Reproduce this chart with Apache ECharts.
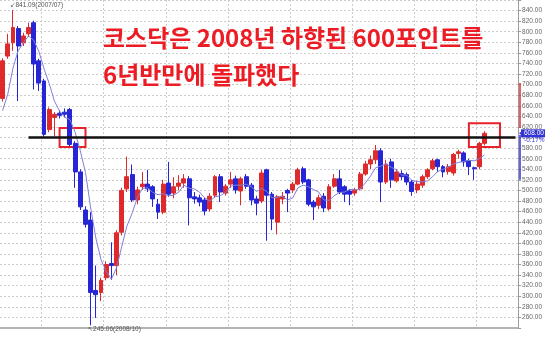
<!DOCTYPE html>
<html><head><meta charset="utf-8">
<script src="https://cdn.jsdelivr.net/npm/echarts@6/dist/echarts.min.js"></script>
<style>html,body{margin:0;padding:0;background:#fff}#c{width:545px;height:339px}</style>
</head><body><div id="c"></div>
<script>
// Monthly KOSDAQ categories (last slots are empty future months)
const months = [
 '2007/05','2007/06','2007/07','2007/08','2007/09','2007/10','2007/11','2007/12',
 '2008/01','2008/02','2008/03','2008/04','2008/05','2008/06','2008/07','2008/08','2008/09','2008/10','2008/11','2008/12',
 '2009/01','2009/02','2009/03','2009/04','2009/05','2009/06','2009/07','2009/08','2009/09','2009/10','2009/11','2009/12',
 '2010/01','2010/02','2010/03','2010/04','2010/05','2010/06','2010/07','2010/08','2010/09','2010/10','2010/11','2010/12',
 '2011/01','2011/02','2011/03','2011/04','2011/05','2011/06','2011/07','2011/08','2011/09','2011/10','2011/11','2011/12',
 '2012/01','2012/02','2012/03','2012/04','2012/05','2012/06','2012/07','2012/08','2012/09','2012/10','2012/11','2012/12',
 '2013/01','2013/02','2013/03','2013/04','2013/05','2013/06','2013/07','2013/08','2013/09','2013/10','2013/11','2013/12',
 '2014/01','2014/02','2014/03','2014/04','2014/05','2014/06','2014/07','2014/08','2014/09','2014/10','2014/11','2014/12',
 '2015/01','2015/02','2015/03','2015/04','2015/05','2015/06','2015/07','2015/08'
];
const opens = [
 674,754,779,806,779,796,817,745,
 707,615,638,646,648,653,589,535,463,444,311,307,
 335,362,358,421,503,530,482,507,512,507,474,459,
 514,495,508,514,522,488,486,482,465,491,526,495,
 512,522,499,526,510,484,480,539,493,440,484,500,
 501,512,541,520,478,472,489,465,508,522,507,499,
 495,503,531,550,558,575,516,554,518,532,530,516,
 501,510,526,541,558,545,536,533,570,571,556,543,
 545,589
];
const closes = [
 745,777,808,773,792,808,739,703,
 606,653,644,642,644,587,535,469,436,307,303,330,
 360,358,420,500,526,482,501,512,503,484,459,512,
 493,507,514,522,486,484,478,461,489,526,497,508,
 520,501,522,508,482,476,533,491,446,488,489,495,
 512,539,516,474,469,486,467,507,522,497,493,493,
 501,531,550,558,575,516,550,520,535,526,516,498,
 512,526,539,556,545,535,545,568,573,554,545,541,
 589,608
];
const lows = [
 668,749,764,669,773,790,691,688,
 602,610,602,636,638,583,505,463,430,245.06,259,291,
 330,331,340,415,497,478,474,501,497,469,446,455,
 488,485,500,505,434,475,470,453,460,486,478,490,
 505,494,472,503,472,453,476,405,425,417,474,459,
 495,510,512,470,444,465,459,462,505,493,478,472,
 490,500,528,540,550,478,512,505,515,520,510,490,
 495,505,522,538,535,525,530,528,560,545,529,520,
 540,585
];
const highs = [
 750,796,841.09,811,798,817,821,749,
 711,657,648,652,655,656,593,540,470,459,358,335,
 366,402,425,505,564,549,507,535,539,510,484,520,
 554,525,529,531,527,497,492,486,495,529,531,512,
 535,528,526,531,514,490,539,541,497,491,497,503,
 516,543,545,522,482,492,495,512,531,539,510,503,
 505,535,556,566,586,580,558,560,540,538,534,520,
 518,530,542,560,560,548,550,571,577,574,560,545,
 592,612
];
// 5-month moving average line
const ma5 = [
 651,682,731,764,779,792,784,763,
 730,702,669,650,638,634,610,575,534,467,410,369,
 347,332,354,394,433,457,486,504,505,496,492,494,
 490,491,497,510,504,503,497,486,480,488,490,496,
 508,510,510,512,507,498,504,498,486,487,489,482,
 486,505,510,507,502,497,482,481,490,496,497,502,
 501,503,514,527,543,546,550,544,539,529,529,519,
 517,516,518,526,536,540,544,550,553,555,557,556,
 560,567
];
const level600 = 600;
const lineStart = '2007/10', lineEnd = '2015/08';
const boxes = [
 [['2008/04', 618], ['2008/09', 582]],
 [['2014/11', 627], ['2015/05', 582]]
];
const highNote = {month: '2007/07', value: 841.09, text: '↙841.09(2007/07)'};
const lowNote = {month: '2008/10', value: 245.06, text: '↖245.06(2008/10)'};
const upperRange = [703, 618];
const lowerRange = [605, 520];
const changeText = '-0.17%';
const titleLine1 = '코스닥은 2008년 하향된 600포인트를';
const titleLine2 = '6년반만에 돌파했다';
const yMin = 240, yMax = 860, yStep = 20;

const UP = '#de2a2a', DOWN = '#2626d6';
const candles = opens.map((o, i) => [o, closes[i], lows[i], highs[i]]);

const chart = echarts.init(document.getElementById('c'), null, {renderer: 'canvas'});
const labelFont = "'Liberation Sans Narrow', 'Liberation Sans', sans-serif";
chart.setOption({
  animation: false,
  backgroundColor: '#ffffff',
  grid: {left: 0, right: 26, top: 0, bottom: 11},
  xAxis: {
    type: 'category', data: months, boundaryGap: true,
    axisLine: {show: true, lineStyle: {color: '#b4b4b4', width: 2}},
    axisTick: {show: false}, axisLabel: {show: false},
    splitLine: {show: true, interval: (i, v) => String(v).endsWith('/01'),
      lineStyle: {color: '#cccccc', type: [2, 2], width: 1}}
  },
  yAxis: {
    type: 'value', position: 'right', min: yMin, max: yMax, interval: yStep, scale: true,
    axisLine: {show: true, lineStyle: {color: '#9a9a9a', width: 1}},
    axisTick: {show: true, length: 3, lineStyle: {color: '#9a9a9a'}},
    axisLabel: {fontSize: 6.5, fontFamily: labelFont, color: '#666', margin: 4,
      formatter: v => (v === yMin || v === yMax) ? '' : v.toFixed(2)},
    splitLine: {show: true, lineStyle: {color: '#cccccc', type: [2, 2], width: 1}}
  },
  series: [
    {
      type: 'candlestick', data: candles, barWidth: 4.4,
      itemStyle: {color: UP, color0: DOWN, borderColor: UP, borderColor0: DOWN, borderWidth: 1},
      markLine: {
        silent: true, symbol: ['none', 'none'], label: {show: false},
        lineStyle: {color: '#111', width: 2.5, type: 'solid'},
        data: [[{coord: [lineStart, level600]}, {coord: [lineEnd, level600]}]]
      },
      markArea: {
        silent: true,
        itemStyle: {color: 'rgba(0,0,0,0)', borderColor: '#e8222a', borderWidth: 2},
        data: boxes.map(b => [{coord: b[0]}, {coord: b[1]}])
      },
      markPoint: {
        silent: true, symbol: 'circle', symbolSize: 0,
        label: {show: true, fontSize: 6.5, fontFamily: "'Liberation Sans', 'DejaVu Sans', sans-serif", color: '#555',
          align: 'left', verticalAlign: 'middle'},
        data: [
          {coord: [highNote.month, highNote.value], label: {formatter: highNote.text, position: [-3, -5]}},
          {coord: [lowNote.month, lowNote.value], label: {formatter: lowNote.text, position: [-3, 4]}}
        ]
      }
    },
    {
      type: 'line', data: ma5, symbol: 'none', silent: true, z: 3,
      lineStyle: {color: '#8080dc', width: 1}
    }
  ]
});

function px(v) { return chart.convertToPixel({yAxisIndex: 0}, v); }
const axisX = 519;
const lastClose = closes[closes.length - 1];
const yLast = px(lastClose);
const titleFont = "bold 24px 'Noto Sans CJK KR', sans-serif";
chart.setOption({
  graphic: [
    {type: 'text', x: 103, y: 38, z: 100,
     style: {text: titleLine1, fill: '#ec1c24', font: titleFont, textVerticalAlign: 'middle'}},
    {type: 'text', x: 103, y: 75, z: 100,
     style: {text: titleLine2, fill: '#ec1c24', font: titleFont, textVerticalAlign: 'middle'}},
    {type: 'line', z: 100, shape: {x1: axisX + 1, y1: px(upperRange[0]), x2: axisX + 1, y2: px(upperRange[1])},
     style: {stroke: '#e03030', lineWidth: 1.5}},
    {type: 'line', z: 100, shape: {x1: axisX + 1, y1: px(lowerRange[0]), x2: axisX + 1, y2: px(lowerRange[1])},
     style: {stroke: '#3030e0', lineWidth: 1.5}},
    {type: 'rect', z: 101, shape: {x: 521, y: yLast - 4, width: 24, height: 8},
     style: {fill: '#3434d2'}},
    {type: 'text', z: 102, x: 524, y: yLast,
     style: {text: lastClose.toFixed(2), fill: '#fff', font: "6.5px " + labelFont, textVerticalAlign: 'middle'}},
    {type: 'polygon', z: 102, shape: {points: [[519, yLast], [523, yLast - 3], [523, yLast + 3]]},
     style: {fill: '#3434d2'}},
    {type: 'text', z: 102, x: 524, y: yLast + 7,
     style: {text: changeText, fill: '#3434d2', font: "6.5px " + labelFont, textVerticalAlign: 'middle'}}
  ]
});
</script></body></html>
